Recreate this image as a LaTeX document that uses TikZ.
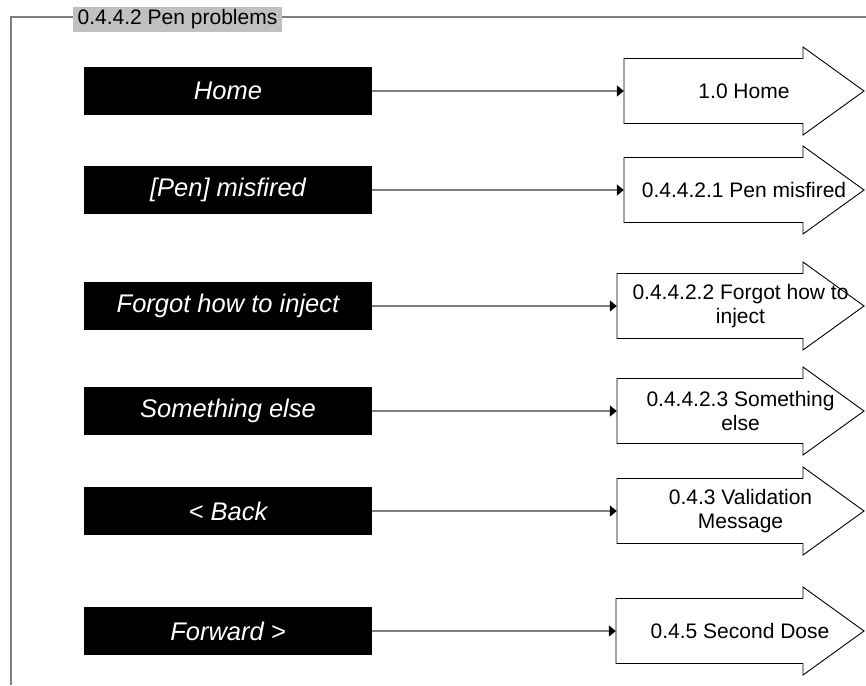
\documentclass[tikz,border=0pt]{standalone}
\usepackage{fontspec}
\setmainfont{Liberation Sans}
\usetikzlibrary{arrows.meta}
\definecolor{framegray}{RGB}{128,128,128}
\definecolor{titlegray}{RGB}{192,192,192}
\begin{document}
\begin{tikzpicture}[x=1pt, y=-1pt,
  btn/.style={fill=black, text=white, font=\fontsize{25.5}{30}\selectfont\itshape, minimum width=288pt, minimum height=48pt, inner sep=0pt},
  tgt/.style={font=\fontsize{21}{24}\selectfont, align=center, inner sep=0pt},
  link/.style={framegray, line width=1.6pt, -{Triangle[length=7pt, width=11pt, black]}},
  outline/.style={draw=black, line width=0.9pt, fill=white},
  frame/.style={framegray, line width=1.5pt}]
  \useasboundingbox (0,0) rectangle (866,685);
  % frame with its title
  \node[fill=titlegray, font=\fontsize{21}{24}\selectfont, inner xsep=4.5pt, inner ysep=0pt, minimum height=25pt, anchor=west] (title) at (73,19.5) {0.4.4.2 Pen problems};
  \coordinate (ftl) at (11,17);
  \coordinate (fbl) at (11,685);
  \coordinate (ftr) at (866,17);
  \draw[frame] (fbl) -- (ftl) -- (ftl -| title.west);
  \draw[frame] (ftl -| title.east) -- (ftr);
  % buttons and the screens they lead to
  \foreach \nm/\yy/\lft/\btxt/\ttxt in {
      home/91/624/Home/1.0 Home,
      misfire/190/624/[Pen] misfired/0.4.4.2.1 Pen misfired,
      forgot/306/617/Forgot how to inject/{0.4.4.2.2 Forgot how to\\inject},
      other/411/617/Something else/{0.4.4.2.3 Something\\else},
      back/511/617/< Back/{0.4.3 Validation\\Message},
      fwd/631/616/Forward >/0.4.5 Second Dose}{
    \pgfmathsetmacro{\arrwd}{864-\lft}
    \pgfmathsetmacro{\arrcx}{(864+\lft)/2}
    \node[btn] (b\nm) at (228,\yy) {\btxt};
    \draw[outline] (\lft,\yy-32.5) -- (803,\yy-32.5) -- (803,\yy-44) -- (864,\yy)
      -- (803,\yy+44) -- (803,\yy+32.5) -- (\lft,\yy+32.5) -- cycle;
    \node[tgt, minimum width=\arrwd pt, minimum height=88pt] (t\nm) at (\arrcx,\yy) {\ttxt};
    \draw[link] (b\nm.east) -- (t\nm.west);
  }
\end{tikzpicture}
\end{document}
